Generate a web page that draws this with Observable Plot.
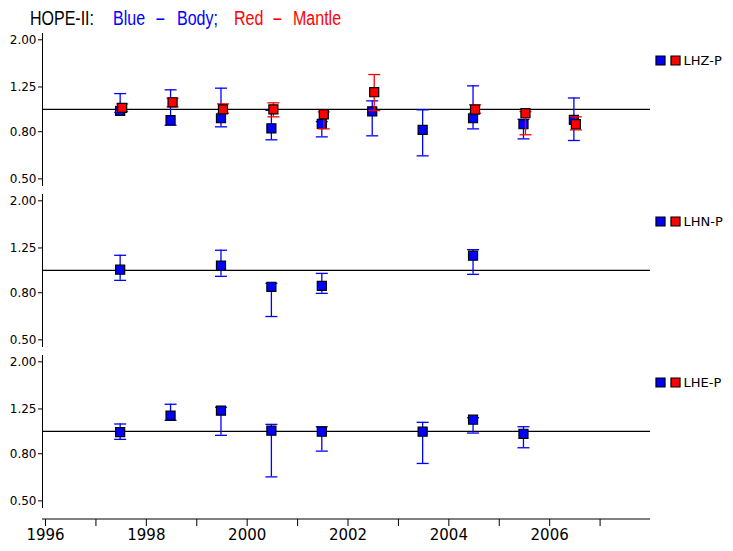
<!DOCTYPE html>
<html><head><meta charset="utf-8">
<script src="https://cdn.jsdelivr.net/npm/d3@7"></script>
<script src="https://cdn.jsdelivr.net/npm/@observablehq/plot@0.6"></script>
<style>
body{margin:0;background:#fff;}
#wrap{position:relative;width:733px;height:551px;overflow:hidden;background:#fff;}
#title{position:relative;height:29px;font-family:"Liberation Sans",Arial,sans-serif;font-size:20px;}
#title span{position:absolute;top:8px;line-height:20px;white-space:pre;transform-origin:left center;}
</style></head><body>
<div id="wrap"><div id="title"></div><div id="chart"></div></div>
<script>
// ---------- data ----------
const components = ["LHZ-P", "LHN-P", "LHE-P"];
const epochs = [1997.5, 1998.5, 1999.5, 2000.5, 2001.5, 2002.5, 2003.5, 2004.5, 2005.5, 2006.5];
const xTicks = [1996, 1997, 1998, 1999, 2000, 2001, 2002, 2003, 2004, 2005, 2006, 2007];
const yTicks = [0.5, 0.8, 1.25, 2.0];
const titleTokens = ["HOPE-II:", "Blue", "-", "Body;", "Red", "-", "Mantle"];

// LHZ-P
const lhzBody   = [0.985, 0.897, 0.915, 0.828, 0.865, 0.980, 0.815, 0.915, 0.862, 0.900];
const lhzBodyHi = [1.170, 1.215, 1.235, 0.990, 0.885, 1.088, 0.995, 1.264, 0.906, 1.120];
const lhzBodyLo = [0.970, 0.853, 0.840, 0.738, 0.760, 0.768, 0.629, 0.823, 0.745, 0.733];
const lhzMantle   = [1.015, 1.073, 1.000, 1.000, 0.952, 1.186, null, 0.998, 0.962, 0.862];
const lhzMantleHi = [1.056, 1.117, 1.056, 1.067, 0.975, 1.415, null, 1.046, 0.978, 0.928];
const lhzMantleLo = [0.980, 1.025, 0.962, 0.928, 0.823, 0.988, null, 0.962, 0.776, 0.815];
// LHN-P
const lhnBody   = [1.006, null, 1.047, 0.849, 0.857, null, null, 1.157, null, null];
const lhnBodyHi = [1.162, null, 1.222, 0.878, 0.970, null, null, 1.229, null, null];
const lhnBodyLo = [0.905, null, 0.942, 0.631, 0.795, null, null, 0.961, null, null];
// LHE-P
const lheBody   = [0.993, 1.169, 1.229, 1.006, 0.996, null, 0.996, 1.123, 0.976, null];
const lheBodyHi = [1.076, 1.310, 1.271, 1.072, 1.047, null, 1.094, 1.146, 1.047, null];
const lheBodyLo = [0.923, 1.116, 0.961, 0.635, 0.821, null, 0.726, 0.983, 0.849, null];

// ---------- build ----------
function rows(comp, v, lo, hi) {
  return epochs.map((e, i) => ({comp, epoch: e, value: v[i], lo: lo[i], hi: hi[i]}))
               .filter(d => d.value != null);
}
const body = [
  ...rows("LHZ-P", lhzBody, lhzBodyLo, lhzBodyHi),
  ...rows("LHN-P", lhnBody, lhnBodyLo, lhnBodyHi),
  ...rows("LHE-P", lheBody, lheBodyLo, lheBodyHi)
];
const mantle = rows("LHZ-P", lhzMantle, lhzMantleLo, lhzMantleHi);

const BLUE = "#0000ff", RED = "#ff0000";
const cap = {draw(ctx) { ctx.moveTo(-6, 0); ctx.lineTo(6, 0); }};
function seriesMarks(data, c, dx) {
  return [
    Plot.ruleX(data, {x: "epoch", y1: "lo", y2: "hi", fy: "comp", stroke: c, strokeWidth: 1.3, dx}),
    Plot.dot(data, {x: "epoch", y: "lo", fy: "comp", symbol: cap, r: 3, fill: "none", stroke: c, strokeWidth: 1.3, dx}),
    Plot.dot(data, {x: "epoch", y: "hi", fy: "comp", symbol: cap, r: 3, fill: "none", stroke: c, strokeWidth: 1.3, dx}),
    Plot.dot(data, {x: "epoch", y: "value", fy: "comp", symbol: "square", r: 5.1, fill: c, stroke: "black", strokeWidth: 1.2, dx})
  ];
}

const W = 733, H = 522, mL = 42, mR = 83, mT = 4, mB = 44, axisGap = 12;
const chart = Plot.plot({
  width: W, height: H,
  marginTop: mT, marginBottom: mB, marginLeft: mL, marginRight: mR,
  style: {fontFamily: "DejaVu Sans, sans-serif", fontSize: "12px", color: "black", background: "white", overflow: "visible"},
  x: {domain: [1995.94, 2008]},
  y: {type: "log", domain: [0.468, 2.13]},
  fy: {domain: components, padding: 0.057, axis: null},
  marks: [
    Plot.frame({anchor: "left", stroke: "black"}),
    Plot.axisY({ticks: yTicks, tickFormat: d => d.toFixed(2), tickSize: 4, tickPadding: 2, label: null, fontSize: 12}),
    Plot.axisX({ticks: xTicks, tickSize: 7, tickPadding: 3, dy: axisGap,
                tickFormat: d => (d % 2 === 0 ? String(d) : ""), label: null, fontSize: 15}),
    Plot.ruleY([1], {stroke: "black", strokeWidth: 1.2}),
    ...seriesMarks(body, BLUE, -1),
    ...seriesMarks(mantle, RED, 1),
    Plot.dot(components, {fy: d => d, frameAnchor: "top-right", dx: 10, dy: 27, symbol: "square", r: 5.1, fill: BLUE, stroke: "black", strokeWidth: 1.2}),
    Plot.dot(components, {fy: d => d, frameAnchor: "top-right", dx: 25, dy: 27, symbol: "square", r: 5.1, fill: RED, stroke: "black", strokeWidth: 1.2}),
    Plot.text(components, {fy: d => d, text: d => d, frameAnchor: "top-right", dx: 33, dy: 27, textAnchor: "start", lineAnchor: "middle", fontSize: 13})
  ]
});

// x-axis baseline below the last panel
d3.select(chart).append("line")
  .attr("x1", mL).attr("x2", W - mR)
  .attr("y1", H - mB + axisGap).attr("y2", H - mB + axisGap)
  .attr("stroke", "black").attr("stroke-width", 1);

document.getElementById("chart").appendChild(chart);

// ---------- title ----------
const titleColors = ["black", BLUE, BLUE, BLUE, RED, RED, RED];
const titleLeft = [30, 113, 155, 177, 234, 272, 293];
const titleScale = [0.8, 0.8, 1.6, 0.8, 0.8, 1.6, 0.8];
const tdiv = document.getElementById("title");
titleTokens.forEach((t, i) => {
  const s = document.createElement("span");
  s.textContent = t;
  s.style.color = titleColors[i];
  s.style.left = titleLeft[i] + "px";
  s.style.transform = `scaleX(${titleScale[i]})`;
  tdiv.appendChild(s);
});
</script>
</body></html>
